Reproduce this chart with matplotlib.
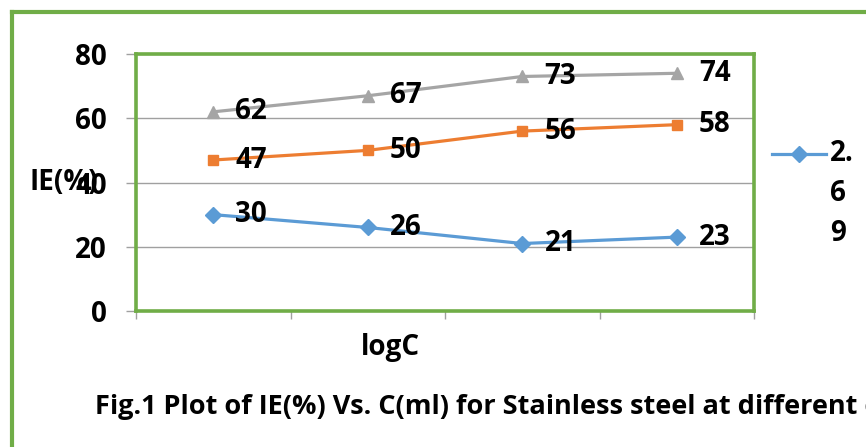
import matplotlib
matplotlib.use("Agg")
import matplotlib.pyplot as plt
from matplotlib.lines import Line2D

categories = ["C1", "C2", "C3", "C4"]
series_blue = [30, 26, 21, 23]
series_orange = [47, 50, 56, 58]
series_gray = [62, 67, 73, 74]
legend_label = "2.\n6\n9"
y_ticks = [0, 20, 40, 60, 80]

plt.rcParams['font.family'] = ['Open Sans', 'DejaVu Sans']
plt.rcParams['font.weight'] = 'bold'

W, H = 866, 447
fig = plt.figure(figsize=(W / 100, H / 100), dpi=100)
green = "#70AD47"
FS = 20

ax = fig.add_axes([136 / W, 1 - 311 / H, (754 - 136) / W, (311 - 54) / H])
x = list(range(len(categories)))
styles = [
    (series_blue, "#5B9BD5", "D", 8),
    (series_orange, "#ED7D31", "s", 7.5),
    (series_gray, "#A5A5A5", "^", 8.5),
]
lines = []
for vals, col, mk, ms in styles:
    ln, = ax.plot(x, vals, color=col, marker=mk, markersize=ms, lw=2.3, zorder=3)
    lines.append(ln)
    for xi, v in zip(x, vals):
        ax.annotate(str(v), (xi, v), xytext=(16, 0), textcoords="offset points",
                    ha="left", va="center", fontsize=FS, fontweight="bold", color="black")

ax.set_xlim(-0.5, len(categories) - 0.5)
ax.set_ylim(0, 80)
ax.set_yticks(y_ticks)
ax.set_yticklabels([str(t) for t in y_ticks], fontsize=FS, fontweight="bold")
ax.set_xticks([i - 0.5 for i in range(len(categories) + 1)])
ax.set_xticklabels([])
ax.tick_params(axis="y", length=7, color="#A0A0A0", width=1, pad=14)
ax.tick_params(axis="x", length=6, color="#A0A0A0", width=1)
ax.grid(axis="y", color="#A0A0A0", lw=1)
ax.set_axisbelow(True)
for s in ax.spines.values():
    s.set_color(green)
    s.set_linewidth(2.6)

fig.text(390 / W, 1 - 347 / H, "logC", ha="center", va="center", fontsize=FS, fontweight="bold")
fig.text(30 / W, 1 - 183 / H, "IE(%)", ha="left", va="center", fontsize=FS, fontweight="bold")
fig.text(95 / W, 1 - 407 / H, "Fig.1 Plot of IE(%) Vs. C(ml) for Stainless steel at different concentrations",
         ha="left", va="center", fontsize=19.5, fontweight="bold")

# legend (single visible entry, label wrapped)
fig.add_artist(Line2D([772 / W, 826 / W], [1 - 154 / H, 1 - 154 / H], color=lines[0].get_color(),
                      lw=2.3, transform=fig.transFigure))
fig.add_artist(Line2D([799 / W], [1 - 154 / H], color=lines[0].get_color(), marker="D",
                      markersize=8, transform=fig.transFigure))
fig.text(830 / W, 1 - 139 / H, legend_label, ha="left", va="top", fontsize=FS,
         fontweight="bold", linespacing=1.5)

# outer chart border (clipped at right and bottom)
fig.add_artist(Line2D([11.5 / W, 11.5 / W], [-0.1, 1 - 12 / H], color=green, lw=3, transform=fig.transFigure))
fig.add_artist(Line2D([11.5 / W, 1.1], [1 - 12 / H, 1 - 12 / H], color=green, lw=3, transform=fig.transFigure))

fig.savefig("out.png", dpi=100)
